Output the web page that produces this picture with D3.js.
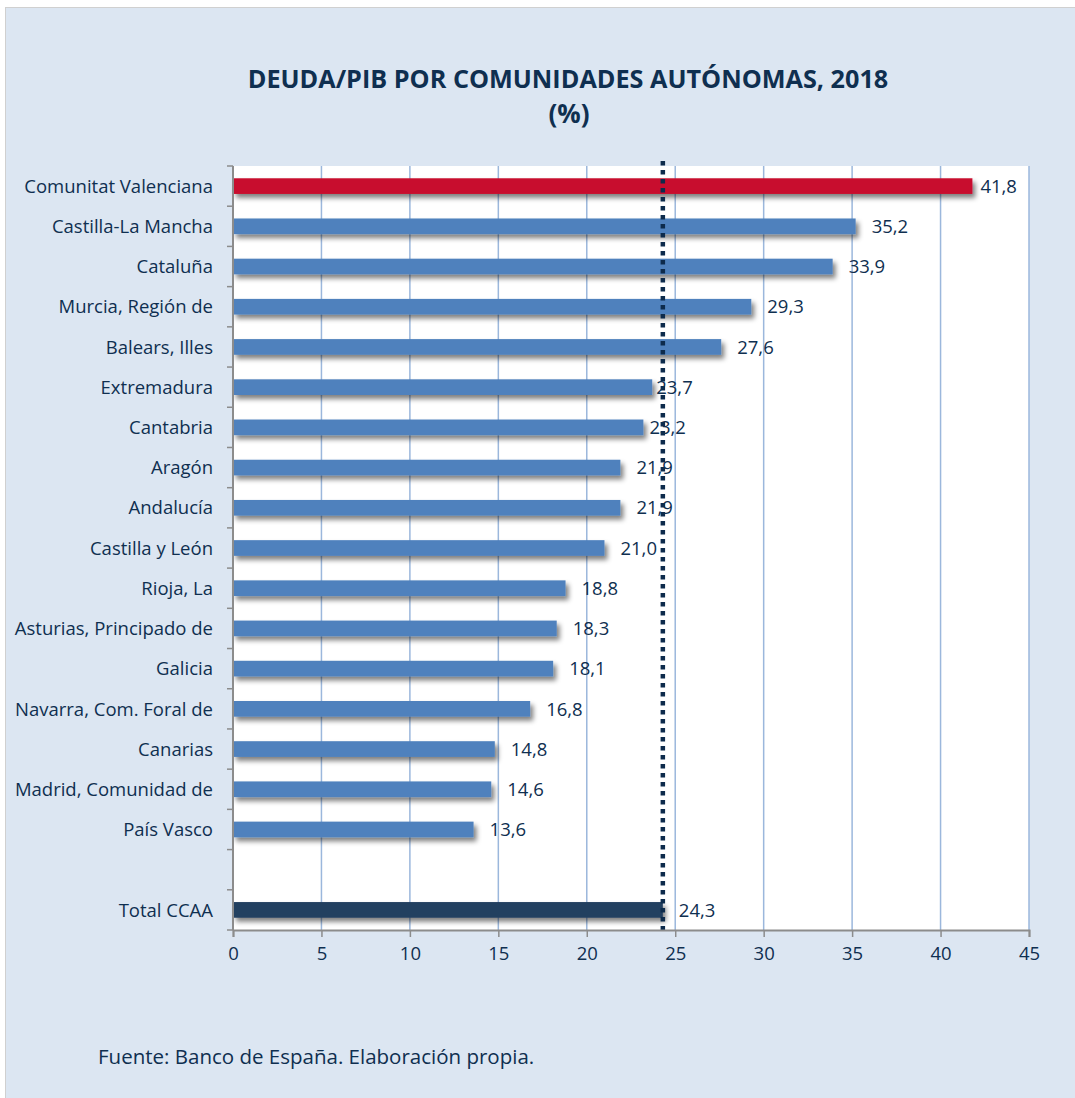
<!DOCTYPE html>
<html><head><meta charset="utf-8">
<script src="https://cdn.jsdelivr.net/npm/d3@7"></script>
<style>body{margin:0;background:#fff}svg{display:block}</style>
</head><body>
<svg id="c" width="1075" height="1098"></svg>
<script>
const categories = ["Comunitat Valenciana","Castilla-La Mancha","Cataluña","Murcia, Región de","Balears, Illes","Extremadura","Cantabria","Aragón","Andalucía","Castilla y León","Rioja, La","Asturias, Principado de","Galicia","Navarra, Com. Foral de","Canarias","Madrid, Comunidad de","País Vasco","","Total CCAA"];
const values = [41.8,35.2,33.9,29.3,27.6,23.7,23.2,21.9,21.9,21.0,18.8,18.3,18.1,16.8,14.8,14.6,13.6,null,24.3];
const highlight = "Comunitat Valenciana";
const totalLabel = "Total CCAA";
const averageValue = 24.3;
const xTicks = [0,5,10,15,20,25,30,35,40,45];
const title = ["DEUDA/PIB POR COMUNIDADES AUTÓNOMAS, 2018","(%)"];
const source = "Fuente: Banco de España. Elaboración propia.";

const svg = d3.select("#c");
const font = "'Open Sans', 'Noto Sans', sans-serif";
const navy = "#0f2f50";
// label gap (px) after bar end; a few labels sit tighter in the original
const labelGap = 16;
const tightLabels = {"Comunitat Valenciana":8, "Extremadura":4, "Cantabria":6};

const defs = svg.append("defs");
const f = defs.append("filter").attr("id","sh").attr("x","-5%").attr("y","-50%").attr("width","115%").attr("height","250%");
f.append("feGaussianBlur").attr("in","SourceAlpha").attr("stdDeviation",2.6);
f.append("feOffset").attr("dx",3).attr("dy",4).attr("result","b");
f.append("feComponentTransfer").append("feFuncA").attr("type","linear").attr("slope",0.5);
const m = f.append("feMerge"); m.append("feMergeNode"); m.append("feMergeNode").attr("in","SourceGraphic");

// panel
svg.append("rect").attr("x",5.5).attr("y",7.5).attr("width",1075).attr("height",1100)
  .attr("fill","#dce6f2").attr("stroke","#d0d0d0").attr("stroke-width",1);

const L=233, R=1029, T=166, B=930;
const x = d3.scaleLinear().domain([0,45]).range([L,R]);
const y = d3.scaleBand().domain(categories.map((c,i)=>i)).range([T,B]).paddingInner(0.61).paddingOuter(0.305);

svg.append("rect").attr("x",L).attr("y",T).attr("width",R-L).attr("height",B-T).attr("fill","#fff");

// gridlines
svg.append("g").selectAll("line").data(xTicks.slice(1)).join("line")
  .attr("x1",d=>x(d)).attr("x2",d=>x(d)).attr("y1",T).attr("y2",B)
  .attr("stroke","#9bb7dc").attr("stroke-width",1.5);

const rows = values.map((v,i)=>({v,i,c:categories[i]})).filter(d=>d.v!=null);

// bars
svg.append("g").selectAll("rect").data(rows).join("rect")
  .attr("x",L).attr("y",d=>y(d.i)).attr("width",d=>x(d.v)-L).attr("height",y.bandwidth())
  .attr("fill",d=>d.c===highlight?"#c8102e":(d.c===totalLabel?"#243f60":"#4f81bd"))
  .attr("filter","url(#sh)");

// average dotted line
svg.append("line").attr("x1",x(averageValue)).attr("x2",x(averageValue)).attr("y1",T-5).attr("y2",B)
  .attr("stroke","#0d2b4c").attr("stroke-width",4.5).attr("stroke-dasharray","4.5,4.5");

// value labels
svg.append("g").selectAll("text").data(rows).join("text")
  .attr("x",d=>x(d.v)+(tightLabels[d.c]!==undefined?tightLabels[d.c]:labelGap)).attr("y",d=>y(d.i)+y.bandwidth()/2).attr("dy","0.36em")
  .attr("font-family",font).attr("font-size",18.5).attr("fill",navy)
  .text(d=>d3.format(".1f")(d.v).replace(".",","));

// left axis
const ya = d3.scaleLinear().domain([0,categories.length]).range([T,B]);
svg.append("line").attr("x1",L).attr("x2",L).attr("y1",T).attr("y2",B).attr("stroke","#8c8c8c").attr("stroke-width",2);
svg.append("g").selectAll("line").data(d3.range(categories.length+1)).join("line")
  .attr("x1",L-6).attr("x2",L).attr("y1",d=>ya(d)).attr("y2",d=>ya(d)).attr("stroke","#8c8c8c").attr("stroke-width",1.5);
svg.append("g").selectAll("text").data(categories).join("text")
  .attr("x",213).attr("y",(d,i)=>y(i)+y.bandwidth()/2).attr("dy","0.36em").attr("text-anchor","end")
  .attr("font-family",font).attr("font-size",18.5).attr("fill",navy).text(d=>d);

// bottom axis
const xa = svg.append("g").attr("transform",`translate(0,${B})`).call(d3.axisBottom(x).tickValues(xTicks).tickSize(7).tickPadding(10));
xa.select(".domain").attr("stroke","#8c8c8c").attr("stroke-width",2);
xa.selectAll(".tick line").attr("stroke","#8c8c8c").attr("stroke-width",1.5);
xa.selectAll("text").attr("font-family",font).attr("font-size",18.5).attr("fill",navy);

// title
const t1 = svg.append("text").attr("x",568).attr("y",88).attr("text-anchor","middle")
  .attr("font-family",font).attr("font-weight","bold").attr("font-size",24).attr("fill","#0f2f50").text(title[0]);
const w = t1.node().getComputedTextLength();
if (w>0) t1.attr("font-size",24*641/w);
svg.append("text").attr("x",569).attr("y",123).attr("text-anchor","middle")
  .attr("font-family",font).attr("font-weight","bold").attr("font-size",26).attr("fill","#0f2f50").text(title[1]);

svg.append("text").attr("x",98).attr("y",1064).attr("font-family",font).attr("font-size",20.5).attr("fill",navy).text(source);
</script>
</body></html>
